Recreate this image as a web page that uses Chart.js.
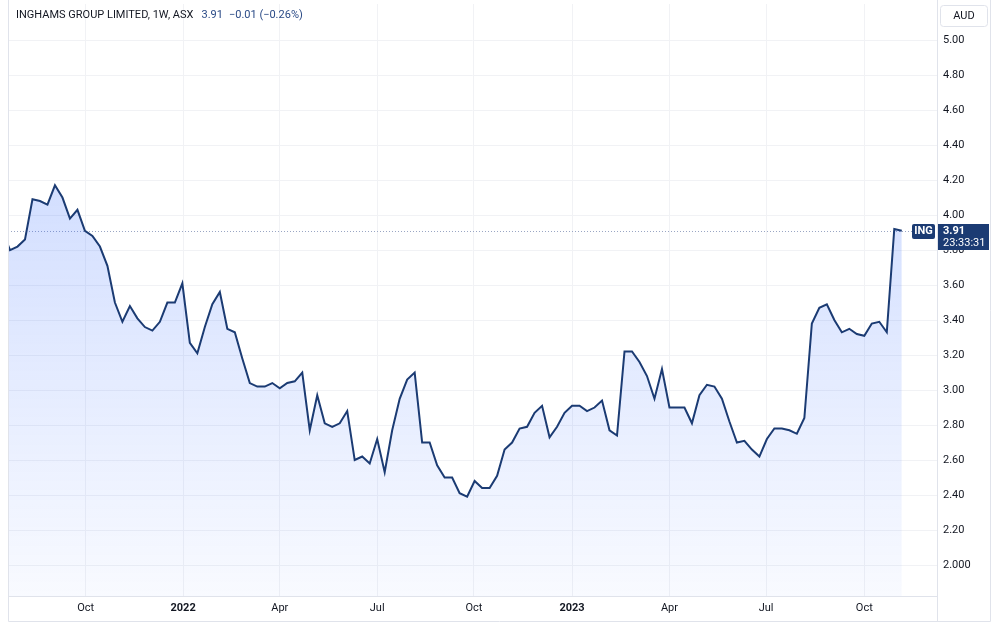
<!DOCTYPE html>
<html>
<head>
<meta charset="utf-8">
<script src="https://cdn.jsdelivr.net/npm/chart.js@4"></script>
<style>
  html, body { margin: 0; padding: 0; background: #fff; }
  #wrap { width: 1000px; height: 624px; }
</style>
</head>
<body>
<div id="wrap"><canvas id="chart" width="1000" height="624"></canvas></div>
<script>
// Weekly closes, one per week; week 0 sits just left of the visible area.
var CLOSES = [
  3.91,
  3.80, 3.82, 3.86, 4.09, 4.08, 4.06, 4.17, 4.10, 3.98, 4.03,
  3.91, 3.88, 3.82, 3.71, 3.50, 3.39, 3.48, 3.41, 3.36, 3.34,
  3.39, 3.50, 3.50, 3.61, 3.27, 3.21, 3.36, 3.49, 3.56, 3.35, 3.33,
  3.18, 3.04, 3.02, 3.02, 3.04, 3.01, 3.04, 3.05, 3.10, 2.77,
  2.97, 2.81, 2.79, 2.81, 2.88, 2.60, 2.62, 2.58, 2.72, 2.53,
  2.77, 2.95, 3.06, 3.10, 2.70, 2.70,
  2.57, 2.50, 2.50, 2.41, 2.39, 2.48, 2.44, 2.44, 2.51, 2.66,
  2.70, 2.78, 2.79, 2.87, 2.91, 2.73, 2.79, 2.87, 2.91, 2.91,
  2.88, 2.90, 2.94, 2.77, 2.74,
  3.22, 3.22, 3.16, 3.08, 2.95, 3.12, 2.90, 2.90, 2.90, 2.81,
  2.97, 3.03, 3.02, 2.95, 2.82, 2.70, 2.71, 2.66, 2.62,
  2.72, 2.78, 2.78, 2.77, 2.75, 2.84, 3.38, 3.47, 3.49, 3.40,
  3.33, 3.35, 3.32, 3.31, 3.38, 3.39, 3.33, 3.92, 3.91
];

// x ticks (in weeks) and their labels
var TICK_WEEKS  = [11.1, 24.1, 37.0, 50.0, 62.9, 76.0, 89.0, 101.9, 115.0];
var TICK_LABELS = ['Oct', '2022', 'Apr', 'Jul', 'Oct', '2023', 'Apr', 'Jul', 'Oct'];
var YEAR_TICKS  = ['2022', '2023'];

var PRICE_TICKS = [2.0, 2.2, 2.4, 2.6, 2.8, 3.0, 3.2, 3.4, 3.6, 3.8, 4.0, 4.2, 4.4, 4.6, 4.8, 5.0];

var TITLE = 'INGHAMS GROUP LIMITED, 1W, ASX';
var LAST = '3.91';
var CHANGE = '\u22120.01 (\u22120.26%)';
var SYMBOL = 'ING';
var COUNTDOWN = '23:33:31';
var CURRENCY = 'AUD';

var FONT = 'Roboto, "Noto Sans", sans-serif';
var NAVY = '#1b3b73';
var GRID = '#f1f2f5';
var FRAME = '#e0e3eb';

var points = CLOSES.map(function(v, i) { return { x: i, y: v }; });

function labelFor(v) {
  var i = TICK_WEEKS.indexOf(v);
  return i < 0 ? '' : TICK_LABELS[i];
}

var overlay = {
  id: 'overlay',
  beforeDatasetsDraw: function(chart) {
    var ctx = chart.ctx, a = chart.chartArea;
    var y = Math.round(chart.scales.y.getPixelForValue(parseFloat(LAST))) + 0.5;
    ctx.save();
    ctx.strokeStyle = '#9aa6c4';
    ctx.lineWidth = 1;
    ctx.setLineDash([1, 2]);
    ctx.beginPath();
    ctx.moveTo(a.left, y);
    ctx.lineTo(912, y);
    ctx.stroke();
    ctx.restore();
  },
  afterDraw: function(chart) {
    var ctx = chart.ctx, a = chart.chartArea;
    ctx.save();
    // frame
    ctx.strokeStyle = FRAME;
    ctx.lineWidth = 1;
    ctx.beginPath();
    ctx.moveTo(8.5, 0); ctx.lineTo(8.5, 621.5);
    ctx.lineTo(990.5, 621.5); ctx.lineTo(990.5, 0);
    ctx.moveTo(a.right + 0.5, 0); ctx.lineTo(a.right + 0.5, 621.5);
    ctx.stroke();

    // title
    ctx.font = '11px ' + FONT;
    ctx.textBaseline = 'middle';
    ctx.textAlign = 'left';
    ctx.fillStyle = '#131722';
    ctx.fillText(TITLE, 16, 15);
    var x = 16 + ctx.measureText(TITLE).width + 8;
    ctx.fillStyle = '#2a4a86';
    ctx.fillText(LAST, x, 15);
    x += ctx.measureText(LAST).width + 6;
    ctx.fillText(CHANGE, x, 15);

    // currency box
    ctx.fillStyle = '#fff';
    ctx.strokeStyle = FRAME;
    ctx.beginPath();
    ctx.roundRect(940.5, 5.5, 47, 21, 3);
    ctx.fill();
    ctx.stroke();
    ctx.fillStyle = '#131722';
    ctx.textAlign = 'center';
    ctx.fillText(CURRENCY, 964, 16);

    // price labels
    var py = Math.round(chart.scales.y.getPixelForValue(parseFloat(LAST)));
    ctx.fillStyle = NAVY;
    ctx.beginPath();
    ctx.roundRect(912, py - 7, 23, 15, 2);
    ctx.fill();
    ctx.fillRect(a.right + 1, py - 7, 51, 26);
    ctx.fillStyle = '#fff';
    ctx.textAlign = 'center';
    ctx.font = 'bold 11px ' + FONT;
    ctx.fillText(SYMBOL, 923.5, py + 0.5);
    ctx.textAlign = 'left';
    ctx.fillText(LAST, 943, py + 0.5);
    ctx.font = '11px ' + FONT;
    ctx.fillText(COUNTDOWN, 943, py + 12.5);
    ctx.restore();
  }
};

new Chart(document.getElementById('chart'), {
  type: 'line',
  data: {
    datasets: [{
      data: points,
      borderColor: NAVY,
      borderWidth: 2,
      pointRadius: 0,
      tension: 0,
      fill: 'start',
      backgroundColor: function(c) {
        var a = c.chart.chartArea;
        if (!a) return 'rgba(41,98,255,0.15)';
        var g = c.chart.ctx.createLinearGradient(0, a.top + 170, 0, a.bottom);
        g.addColorStop(0, 'rgba(41,98,255,0.21)');
        g.addColorStop(1, 'rgba(41,98,255,0.03)');
        return g;
      }
    }]
  },
  options: {
    responsive: false,
    animation: false,
    devicePixelRatio: 1,
    layout: { padding: { left: 8, right: 10, top: 4, bottom: 3 } },
    plugins: { legend: { display: false }, tooltip: { enabled: false } },
    scales: {
      x: {
        type: 'linear',
        min: 0.734,
        max: 124.7,
        afterFit: function(s) { s.height = 25; s.paddingLeft = 0; s.paddingRight = 0; },
        afterBuildTicks: function(s) {
          s.ticks = TICK_WEEKS.map(function(v) { return { value: v }; });
        },
        grid: { color: GRID, drawTicks: false },
        border: { color: FRAME },
        ticks: {
          autoSkip: false,
          maxRotation: 0,
          padding: 6,
          color: '#131722',
          font: function(c) {
            var bold = c.tick && YEAR_TICKS.indexOf(labelFor(c.tick.value)) >= 0;
            return { family: FONT, size: 11, weight: bold ? 'bold' : 'normal' };
          },
          callback: function(v) { return labelFor(v); }
        }
      },
      y: {
        position: 'right',
        min: 1.823,
        max: 5.206,
        afterFit: function(s) { s.width = 53; s.paddingTop = 0; s.paddingBottom = 0; },
        afterBuildTicks: function(s) {
          s.ticks = PRICE_TICKS.map(function(v) { return { value: v }; });
        },
        grid: { color: GRID, drawTicks: false },
        border: { color: FRAME },
        ticks: {
          padding: 6,
          color: '#131722',
          font: { family: FONT, size: 11 },
          callback: function(v) { return v === 2 ? '2.000' : v.toFixed(2); }
        }
      }
    }
  },
  plugins: [overlay]
});
</script>
</body>
</html>
